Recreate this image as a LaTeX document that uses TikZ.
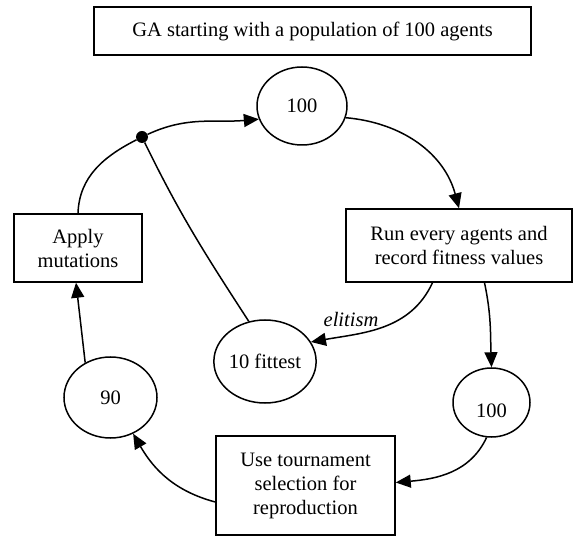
\documentclass[tikz,border=0pt]{standalone}
\usepackage{fontspec}
\setmainfont{Liberation Serif}
\usetikzlibrary{shapes.geometric,arrows.meta}
\begin{document}
\begin{tikzpicture}[x=1pt,y=1pt,
  every node/.style={font=\fontsize{20.5}{24}\selectfont, inner sep=0pt, align=center},
  box/.style={draw, line width=1.5pt, rectangle},
  oval/.style={draw, line width=1.5pt, ellipse},
  link/.style={line width=1.5pt},
  arr/.style={link, -{Triangle[length=15pt,width=13pt]}},
]
\useasboundingbox (0,0) rectangle (573,536);
\node[box, minimum width=437pt, minimum height=48pt] (title) at (312.5,505) {GA starting with a population of 100 agents};
\node[oval, minimum width=90pt, minimum height=78pt] (top100) at (302,430) {100};
\node[circle, fill, minimum size=12pt] (dot) at (142,399) {};
\node[box, minimum width=128pt, minimum height=68pt] (apply) at (78,288) {Apply\\mutations};
\node[box, minimum width=226pt, minimum height=73pt] (run) at (459,290.5) {Run every agents and\\record fitness values};
\node[oval, minimum width=96pt, minimum height=83pt] (fit10) at (265,174.5) {10 fittest};
\node[oval, minimum width=93pt, minimum height=81pt] (n90) at (110.5,138.5) {90};
\node[oval, minimum width=77pt, minimum height=69pt] (r100) at (491.5,133.5) {};
\node (r100t) at (491.5,125) {100};
\node[box, minimum width=179pt, minimum height=99pt] (tourn) at (305.5,50.5) {Use tournament\\selection for\\reproduction};
\node[font=\fontsize{20.5}{24}\selectfont\itshape] (elit) at (351,217) {elitism};

\draw[arr] (dot) to[out=25,in=185] (top100.197);
\draw[arr] (top100.-15) to[out=-5,in=105] (run.north);
\draw[arr] ([xshift=-26.5pt]run.south) to[out=-115,in=10] (fit10.23);
\draw[arr] ([xshift=25.5pt]run.south) to[out=-78,in=92] (r100.north);
\draw[arr] (r100.-98) to[out=-115,in=5] ([yshift=3pt]tourn.east);
\draw[arr] ([yshift=-16.5pt]tourn.west) to[out=165,in=-60] (n90.-58);
\draw[arr] (n90.126) -- ([xshift=-2pt]apply.south);
\draw[link] (apply.north) to[out=88,in=207] (dot);
\draw[link] (fit10.112) to[out=123,in=-64] (dot);
\end{tikzpicture}
\end{document}
